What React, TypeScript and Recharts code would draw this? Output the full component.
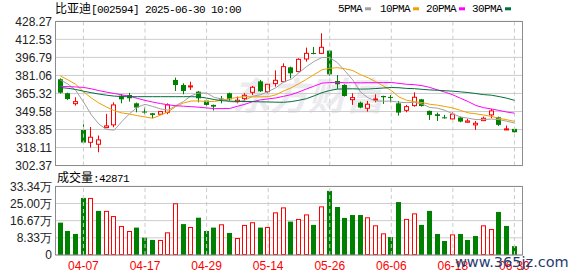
import { ComposedChart, Bar, Line, XAxis, YAxis, CartesianGrid, ReferenceLine } from "recharts";

// --- colours ---
const RED = "#ff0000";
const GREEN = "#008000";
const GRID = "#cccccc";
const BORDER = "#8c8c8c";
const MA_COLORS = { ma5: "#a0a0a0", ma10: "#f0a000", ma20: "#ff00ff", ma30: "#00703a" };

// --- data ---
const DATES = [
  "04-01", "04-02", "04-03", "04-07", "04-08", "04-09", "04-10", "04-11", "04-14", "04-15",
  "04-16", "04-17", "04-18", "04-21", "04-22", "04-23", "04-24", "04-25", "04-28", "04-29",
  "04-30", "05-06", "05-07", "05-08", "05-09", "05-12", "05-13", "05-14", "05-15", "05-16",
  "05-19", "05-20", "05-21", "05-22", "05-23", "05-26", "05-27", "05-28", "05-29", "05-30",
  "06-03", "06-04", "06-05", "06-06", "06-09", "06-10", "06-11", "06-12", "06-13", "06-16",
  "06-17", "06-18", "06-19", "06-20", "06-23", "06-24", "06-25", "06-26", "06-27", "06-30",
];

const OPEN = [
  377.7, 365.5, 356.4, 333.5, 322.7, 321.0, 335.5, 337.9, 363.4, 364.0,
  356.7, 349.5, 348.0, 347.2, 348.9, 377.1, 372.7, 371.0, 366.9, 359.1,
  355.3, 360.8, 365.5, 358.2, 360.8, 366.3, 375.9, 366.9, 373.9, 375.6,
  388.1, 384.4, 395.4, 400.6, 400.3, 402.7, 376.2, 372.7, 359.9, 357.3,
  352.4, 359.7, 363.1, 362.3, 356.7, 350.6, 354.7, 360.2, 350.1, 347.2,
  344.5, 343.1, 344.3, 340.2, 337.9, 341.6, 346.6, 344.5, 333.5, 334.4,
];
const HIGH = [
  378.5, 366.0, 362.0, 338.4, 336.1, 328.6, 347.5, 357.6, 364.6, 365.8,
  357.3, 353.0, 348.3, 349.8, 356.7, 379.1, 374.2, 375.6, 367.5, 360.2,
  355.6, 363.1, 366.0, 362.6, 365.5, 371.9, 377.1, 373.6, 385.5, 391.6,
  388.7, 396.0, 405.3, 405.9, 417.8, 403.3, 381.4, 373.3, 365.5, 358.2,
  358.8, 364.6, 363.4, 364.0, 358.8, 355.3, 366.3, 360.5, 350.4, 348.6,
  346.6, 348.9, 345.1, 343.1, 341.3, 345.1, 351.8, 345.1, 337.3, 334.6,
];
const LOW = [
  365.2, 359.7, 354.7, 322.2, 318.1, 314.0, 335.0, 335.8, 356.7, 358.2,
  348.9, 347.2, 343.7, 346.9, 347.2, 367.5, 364.6, 368.4, 357.6, 353.8,
  350.4, 356.7, 359.1, 356.7, 358.8, 364.0, 366.6, 365.5, 371.3, 375.1,
  378.5, 383.8, 393.1, 399.5, 399.8, 380.9, 369.3, 362.6, 355.3, 352.4,
  349.5, 357.6, 356.2, 357.6, 346.0, 348.9, 353.8, 353.8, 342.2, 341.3,
  343.4, 342.5, 340.2, 339.9, 333.5, 341.3, 343.7, 337.0, 333.3, 331.3,
];
const CLOSE = [
  366.0, 360.5, 358.2, 322.5, 327.1, 324.8, 337.0, 355.3, 360.2, 361.1,
  353.0, 349.2, 346.6, 349.5, 355.3, 372.7, 367.5, 371.9, 361.1, 355.3,
  353.8, 360.5, 360.2, 359.4, 363.7, 370.7, 367.2, 373.3, 376.8, 388.7,
  382.9, 395.1, 400.3, 399.8, 405.6, 382.0, 373.3, 363.1, 361.7, 353.0,
  355.9, 360.5, 362.0, 361.7, 348.6, 353.8, 362.0, 354.4, 346.6, 345.7,
  343.7, 347.2, 340.8, 341.3, 339.3, 343.7, 350.1, 337.9, 334.4, 331.5,
];

const MA5 = [
  377.0, 373.5, 368.0, 358.0, 346.9, 338.6, 333.9, 333.3, 340.9, 347.7,
  353.3, 355.8, 354.0, 351.9, 350.7, 354.7, 358.3, 363.4, 365.7, 365.7,
  361.9, 360.5, 358.2, 357.8, 359.5, 362.9, 364.2, 366.9, 370.3, 375.3,
  377.8, 383.4, 388.8, 393.4, 396.7, 396.6, 392.2, 384.8, 377.1, 366.6,
  361.4, 358.8, 358.6, 358.6, 357.7, 357.3, 357.6, 356.1, 353.1, 352.5,
  350.5, 347.5, 344.8, 343.7, 342.5, 342.5, 343.0, 342.5, 341.1, 339.5,
];
const MA10 = [
  380.6, 377.1, 373.3, 366.8, 361.5, 357.0, 353.5, 350.3, 348.3, 347.3,
  346.0, 344.8, 343.7, 346.4, 349.2, 354.0, 357.0, 358.7, 358.8, 358.2,
  358.3, 359.4, 360.8, 361.8, 362.6, 362.4, 362.4, 362.5, 364.1, 367.4,
  370.3, 373.8, 377.8, 381.9, 386.0, 387.2, 387.8, 386.8, 385.3, 381.7,
  379.0, 375.5, 371.7, 367.9, 362.2, 359.4, 358.2, 357.4, 355.9, 355.1,
  353.9, 352.6, 350.5, 348.4, 347.5, 346.5, 345.3, 343.6, 342.4, 341.0,
];
const MA20 = [
  371.3, 371.3, 371.0, 370.6, 369.4, 367.8, 366.5, 365.3, 364.1, 362.9,
  361.0, 359.3, 357.8, 356.5, 355.4, 354.6, 354.2, 353.8, 353.3, 352.7,
  352.1, 352.1, 352.2, 354.1, 355.9, 358.2, 359.7, 360.6, 361.4, 362.8,
  364.3, 366.6, 369.3, 371.8, 374.3, 374.8, 375.1, 374.6, 374.7, 374.6,
  374.7, 374.7, 374.8, 374.9, 374.1, 373.3, 373.0, 372.1, 370.6, 368.4,
  366.4, 364.1, 361.1, 358.2, 354.8, 352.9, 351.8, 350.5, 349.1, 348.1,
];
const MA30 = [
  370.5, 369.8, 368.8, 367.3, 366.0, 364.8, 363.8, 363.0, 362.6, 362.5,
  362.5, 362.5, 362.5, 362.5, 362.5, 362.5, 362.5, 362.5, 362.3, 361.3,
  360.0, 359.0, 358.6, 358.4, 358.3, 358.2, 358.0, 357.9, 357.7, 357.6,
  358.2, 359.4, 360.8, 363.3, 366.0, 367.9, 369.1, 369.3, 369.4, 369.1,
  369.2, 369.6, 370.1, 370.5, 370.3, 369.7, 369.5, 368.9, 368.4, 368.1,
  367.7, 367.3, 366.7, 366.1, 365.2, 364.3, 363.8, 362.6, 361.2, 359.3,
];

// volume in 手, and whether the volume bar is drawn red (close above previous close)
const VOLUME = [
  157000, 116500, 102000, 277000, 277000, 214000, 214000, 189000, 141000, 116500,
  133000, 84000, 73000, 73000, 110000, 251000, 150000, 136000, 181000, 116500,
  133000, 149000, 107000, 82500, 146000, 159000, 133000, 136000, 207000, 231000,
  162000, 175000, 197000, 146000, 236000, 311000, 233000, 180000, 194000, 194000,
  183000, 144000, 105000, 87000, 257000, 175000, 202000, 146000, 214000, 102000,
  68000, 100000, 102000, 73000, 92000, 144000, 126000, 209000, 141000, 42871,
];
const VOL_UP = [
  0, 0, 0, 0, 1, 0, 1, 1, 1, 1,
  0, 0, 0, 1, 1, 1, 0, 1, 0, 0,
  0, 1, 0, 1, 1, 1, 0, 1, 1, 1,
  0, 1, 1, 0, 1, 0, 0, 0, 0, 0,
  1, 1, 1, 0, 0, 1, 1, 0, 0, 0,
  0, 1, 0, 0, 0, 1, 1, 0, 0, 0,
];

const DATE_TICKS = ["04-07", "04-17", "04-29", "05-14", "05-26", "06-06", "06-18", "06-30"];
const PRICE_TICKS = [302.37, 318.11, 333.85, 349.58, 365.32, 381.06, 396.79, 412.53, 428.27];
const VOL_TICKS = [0, 83350, 166700, 250050, 333400];
const VOL_TICK_LABELS = ["0", "8.33万", "16.67万", "25.00万", "33.34万"];

const TITLE_NAME = "比亚迪";
const TITLE_REST = "[002594] 2025-06-30 10:00";
const LEGEND = [
  { label: "5PMA", key: "ma5" },
  { label: "10PMA", key: "ma10" },
  { label: "20PMA", key: "ma20" },
  { label: "30PMA", key: "ma30" },
];

const rows = DATES.map((date, i) => ({
  date,
  open: OPEN[i],
  high: HIGH[i],
  low: LOW[i],
  close: CLOSE[i],
  range: [LOW[i], HIGH[i]],
  ma5: MA5[i],
  ma10: MA10[i],
  ma20: MA20[i],
  ma30: MA30[i],
  vol: VOLUME[i],
  up: VOL_UP[i] === 1,
}));

const AXIS_FONT = { fontSize: 12, fill: "#222", fontFamily: "'Liberation Sans', Arial, sans-serif" };
const MONO = "'Liberation Mono', 'DejaVu Sans Mono', monospace";
const CJK = "'Noto Sans CJK SC', sans-serif";

function Candle(props: any) {
  const { x, y, width, height, payload } = props;
  const { open, close, high, low } = payload;
  const up = close >= open;
  const color = up ? RED : GREEN;
  const per = high > low ? height / (high - low) : 0;
  const yOf = (v: number) => y + (high - v) * per;
  const bx = Math.round(x);
  const cx = bx + Math.floor(width / 2) + 0.5;
  const top = yOf(Math.max(open, close));
  const bot = yOf(Math.min(open, close));
  const bodyH = Math.max(1, bot - top);
  return (
    <g>
      <line x1={cx} x2={cx} y1={y} y2={y + height} stroke={color} strokeWidth={1} />
      {up ? (
        <rect x={bx + 0.5} y={top} width={width - 1} height={Math.max(1, bodyH)} fill="#fff" stroke={color} strokeWidth={1} />
      ) : (
        <rect x={bx} y={top} width={width} height={bodyH} fill={color} />
      )}
    </g>
  );
}

function VolBar(props: any) {
  const { x, y, width, height, payload } = props;
  const bx = Math.round(x);
  if (payload.up) {
    return <rect x={bx + 0.5} y={y + 0.5} width={width - 1} height={Math.max(0, height - 1)} fill="#fff" stroke={RED} strokeWidth={1} />;
  }
  return <rect x={bx} y={y} width={width} height={height} fill={GREEN} />;
}

const X_PAD = { left: 0.5, right: 4 };

export default function App() {
  return (
    <div style={{ position: "absolute", left: 0, top: 0, width: 578, height: 276, background: "#fff", overflow: "hidden" }}>
      {/* faint watermark */}
      <svg width={578} height={276} style={{ position: "absolute", left: 0, top: 0 }}>
        <text x={232} y={110} fontSize={38} fontWeight="bold" fontStyle="italic" fill="#ebebef" fontFamily={CJK}>
          东方财富
        </text>
      </svg>

      <div style={{ position: "absolute", left: 0, top: 0 }}>
        <ComposedChart width={578} height={178} data={rows} margin={{ top: 21.3, right: 55.7, bottom: 12.4, left: 0 }}>
          <CartesianGrid vertical={false} stroke={GRID} />
          <XAxis dataKey="date" hide padding={X_PAD} />
          <YAxis
            type="number"
            domain={[302.37, 428.27]}
            ticks={PRICE_TICKS}
            interval={0}
            allowDataOverflow
            width={56}
            axisLine={false}
            tickLine={false}
            tickSize={3}
            tickMargin={1}
            tick={AXIS_FONT}
            tickFormatter={(v: number) => v.toFixed(2)}
          />
          {DATE_TICKS.map((d) => (
            <ReferenceLine key={d} x={d} stroke={GRID} strokeDasharray="4 3" />
          ))}
          <Bar dataKey="range" barSize={5} shape={Candle} isAnimationActive={false} />
          {LEGEND.map((l) => (
            <Line
              key={l.key}
              type="linear"
              dataKey={l.key}
              stroke={(MA_COLORS as any)[l.key]}
              strokeWidth={1}
              dot={false}
              isAnimationActive={false}
            />
          ))}
        </ComposedChart>
      </div>

      <div style={{ position: "absolute", left: 0, top: 170 }}>
        <ComposedChart width={578} height={106} data={rows} margin={{ top: 16.3, right: 55.7, bottom: 0, left: 0 }}>
          <CartesianGrid vertical={false} stroke={GRID} />
          <XAxis
            dataKey="date"
            ticks={DATE_TICKS}
            interval={0}
            padding={X_PAD}
            height={21}
            axisLine={false}
            tickLine={false}
            tickSize={6}
            tickMargin={0}
            tick={{ ...AXIS_FONT, fill: RED }}
          />
          <YAxis
            type="number"
            domain={[0, 333400]}
            ticks={VOL_TICKS}
            interval={0}
            allowDataOverflow
            width={56}
            axisLine={false}
            tickLine={false}
            tickSize={3}
            tickMargin={1}
            tick={AXIS_FONT}
            tickFormatter={(v: number) => VOL_TICK_LABELS[VOL_TICKS.indexOf(v)]}
          />
          {DATE_TICKS.map((d) => (
            <ReferenceLine key={d} x={d} stroke={GRID} strokeDasharray="4 3" />
          ))}
          <Bar dataKey="vol" barSize={5} shape={VolBar} isAnimationActive={false} />
        </ComposedChart>
      </div>

      {/* frames, title, legend */}
      <svg width={578} height={276} style={{ position: "absolute", left: 0, top: 0, pointerEvents: "none" }}>
        <rect x={55.5} y={21.5} width={467} height={144} fill="none" stroke={BORDER} />
        <rect x={55.5} y={186.5} width={467} height={68.5} fill="none" stroke={BORDER} />
        <text x={55} y={13} fill="#000">
          <tspan fontSize={12} fontFamily={CJK}>{TITLE_NAME}</tspan>
          <tspan fontSize={11} fontFamily={MONO} letterSpacing={-0.6}>{TITLE_REST}</tspan>
        </text>
        <text x={57} y={182} fill="#000">
          <tspan fontSize={12} fontFamily={CJK}>成交量</tspan>
          <tspan fontSize={11} fontFamily={MONO} letterSpacing={-0.6}>:{VOLUME[VOLUME.length - 1]}</tspan>
        </text>
        {LEGEND.map((l, i) => {
          const xs = [338, 380, 426, 472][i];
          const w = l.label.length * 6;
          return (
            <g key={l.key}>
              <text x={xs} y={12.3} fontSize={11} letterSpacing={-0.6} fontFamily={MONO} fill="#000">
                {l.label}
              </text>
              <rect x={xs + w + 3} y={7.3} width={6} height={3} fill={(MA_COLORS as any)[l.key]} />
            </g>
          );
        })}
        <text x={455} y={267} fontSize={14.5} fontFamily="'DejaVu Sans', sans-serif" fill="#1f3d70">
          www.365jz.com
        </text>
      </svg>
    </div>
  );
}
